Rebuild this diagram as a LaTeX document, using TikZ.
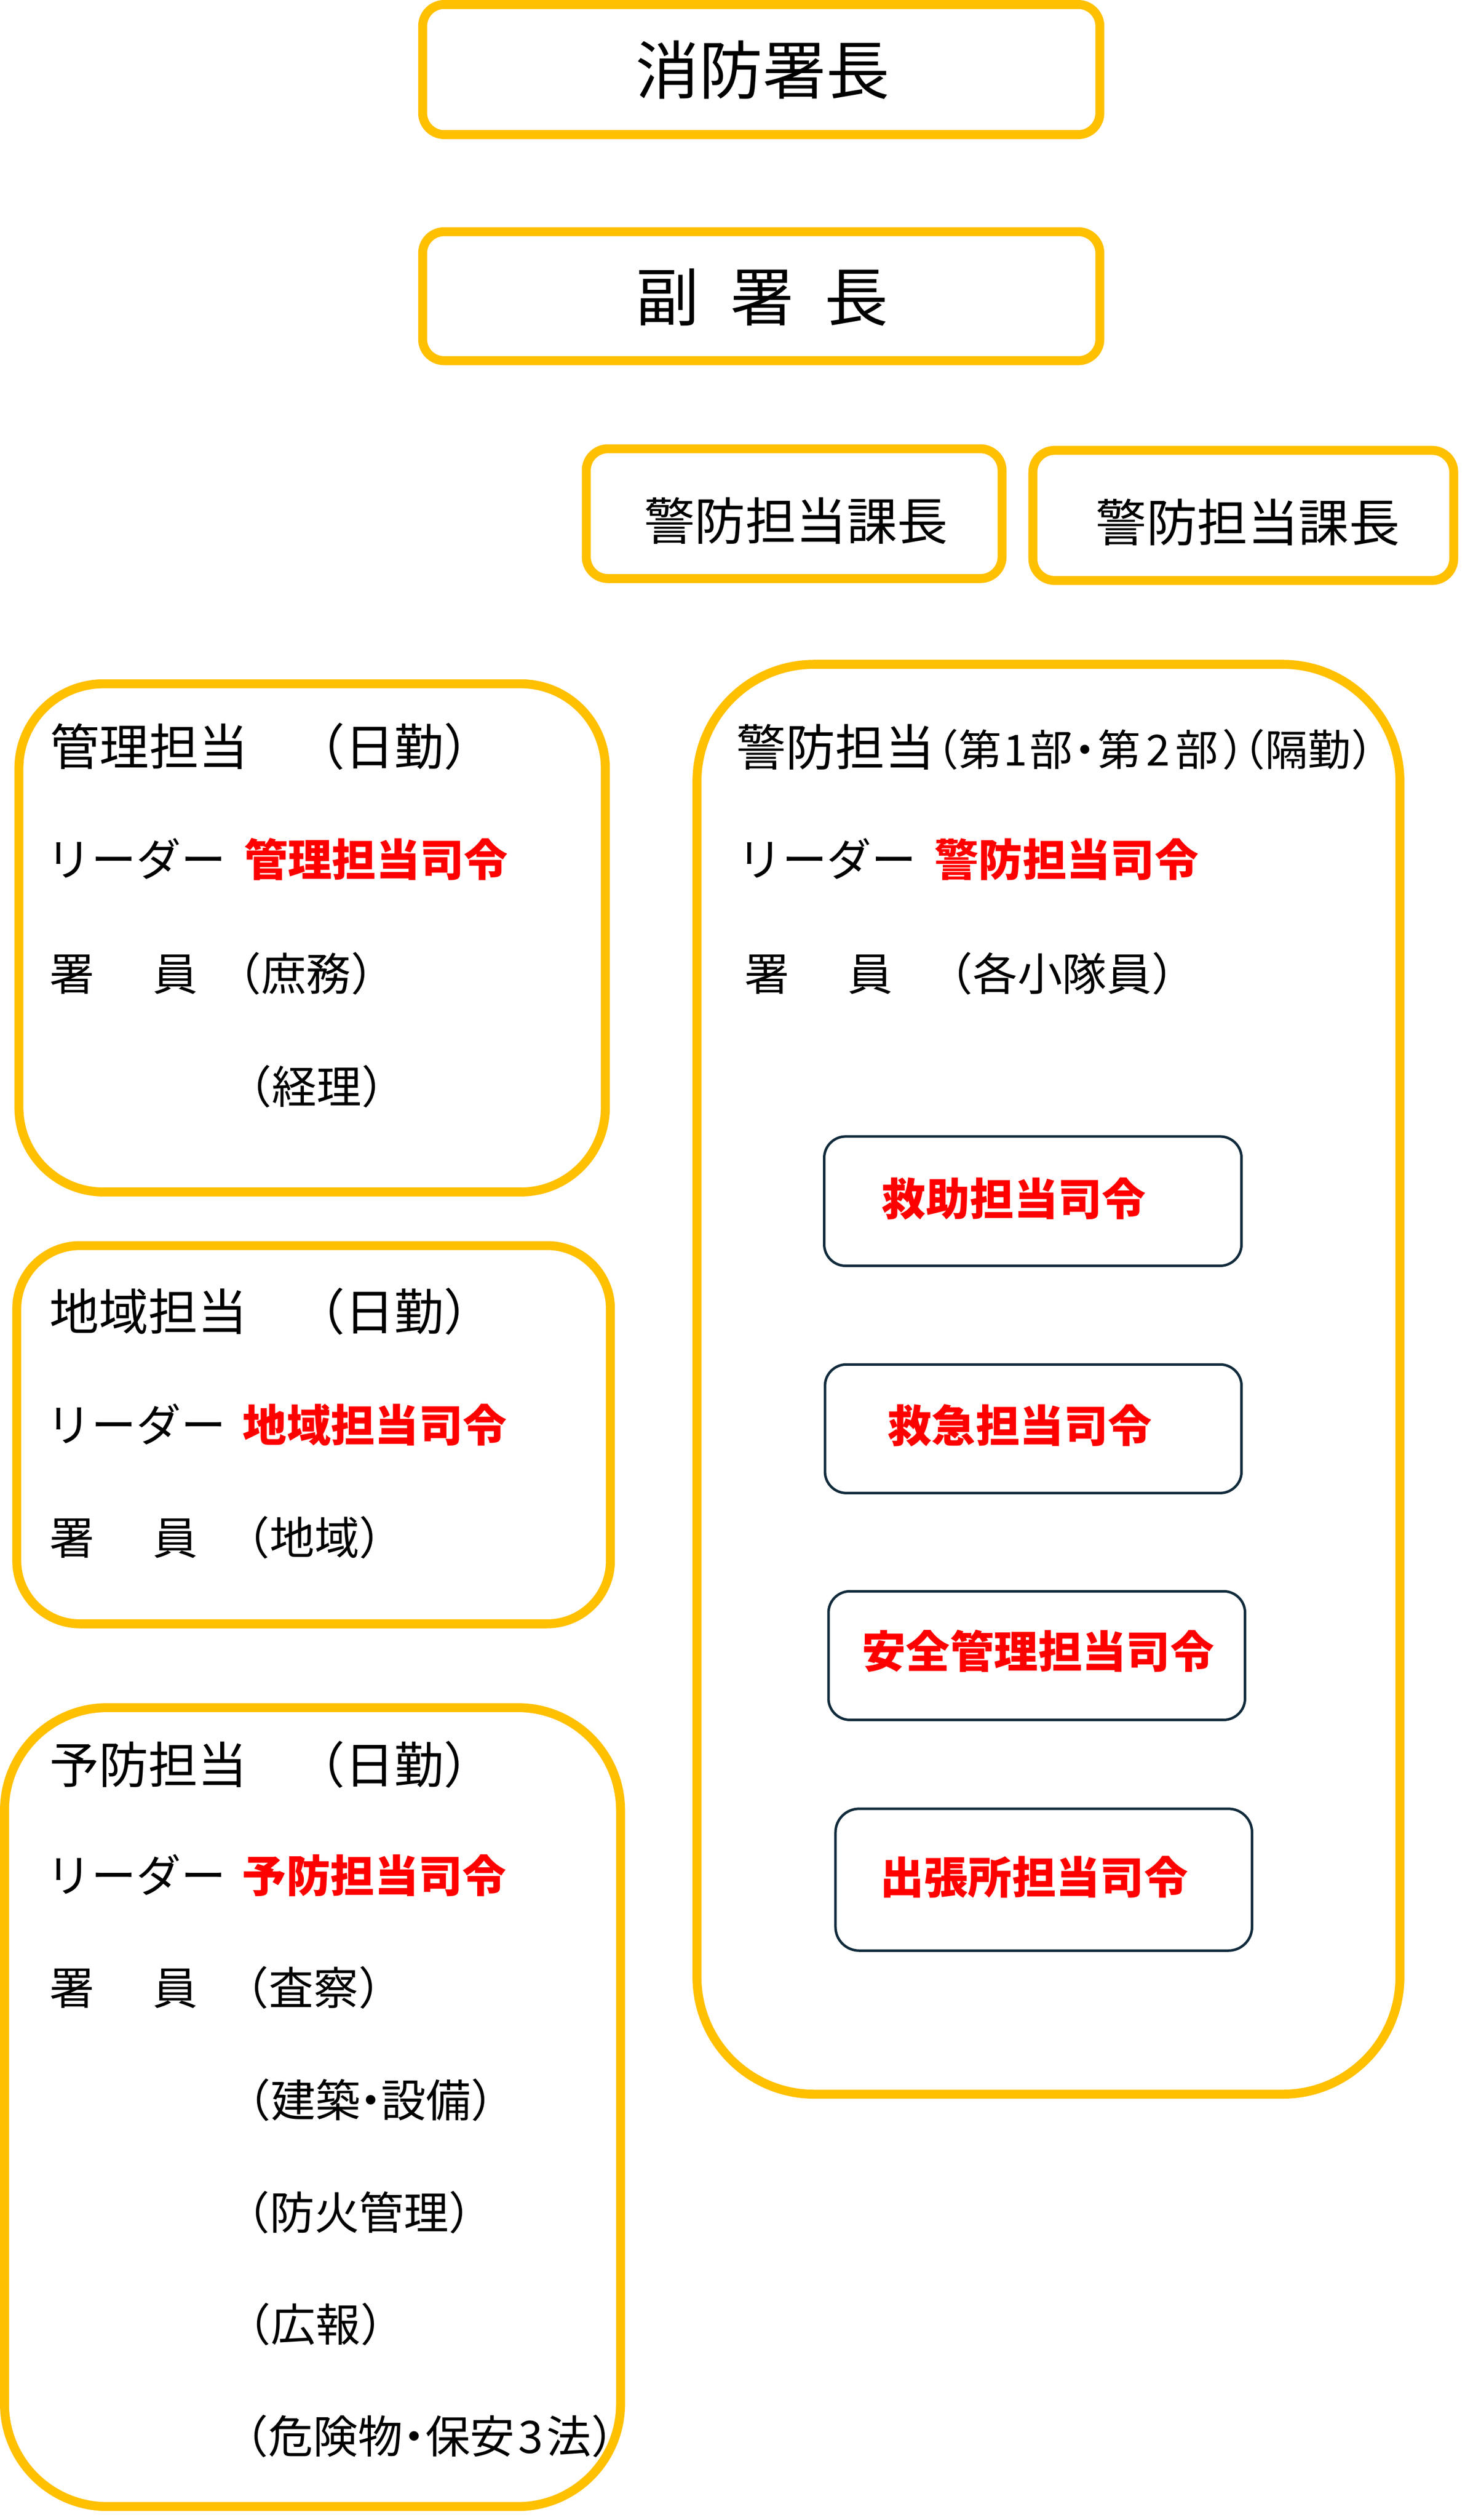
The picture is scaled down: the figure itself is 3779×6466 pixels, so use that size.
\documentclass[tikz,border=0pt]{standalone}
\usepackage{fontspec}
\setmainfont{Noto Sans CJK JP}
\definecolor{ppyellow}{HTML}{FFC000}
\definecolor{ppred}{HTML}{FF0000}
\definecolor{ppnavy}{HTML}{112B3C}
\tikzset{
  ybox/.style={draw=ppyellow, line width=2.3pt, rectangle, inner sep=0pt, outer sep=0pt},
  nbox/.style={draw=ppnavy, line width=0.65pt, rectangle, inner sep=0pt, outer sep=0pt},
  txt/.style={inner sep=0pt, outer sep=0pt, text=black},
  bigtxt/.style={txt, font=\fontsize{16.3pt}{19pt}\selectfont},
  midtxt/.style={txt, font=\fontsize{13pt}{15pt}\selectfont},
  headtxt/.style={txt, font=\fontsize{12.7pt}{15pt}\selectfont, anchor=base west},
  bodytxt/.style={txt, font=\fontsize{11.5pt}{14pt}\selectfont, anchor=base west},
  bodyend/.style={txt, font=\fontsize{11.5pt}{14pt}\selectfont, anchor=base east},
  leadtxt/.style={txt, text=ppred, font=\fontsize{11.3pt}{14pt}\selectfont\bfseries, anchor=base west},
}
\begin{document}
\begin{tikzpicture}[x=0.1pt,y=-0.1pt]
\path[use as bounding box, fill=white] (0,0) rectangle (3779,6466);

% ---------- boxes ----------
\node[ybox, minimum width=173.8pt, minimum height=33.4pt, rounded corners=5.57pt] (chief) at (1953.5,178.5) {};
\node[ybox, minimum width=173.8pt, minimum height=33.1pt, rounded corners=5.52pt] (vice) at (1953.5,760) {};
\node[ybox, minimum width=106.7pt, minimum height=33.3pt, rounded corners=5.55pt] (kacho1) at (2038,1318) {};
\node[ybox, minimum width=108.0pt, minimum height=33.4pt, rounded corners=5.57pt] (kacho2) at (3190.5,1322.5) {};
\node[ybox, minimum width=150.5pt, minimum height=130.4pt, rounded corners=21.7pt] (kanri) at (801,2406.5) {};
\node[ybox, minimum width=152.35pt, minimum height=97.05pt, rounded corners=16.2pt] (chiiki) at (804.75,3681.25) {};
\node[ybox, minimum width=158.1pt, minimum height=205.0pt, rounded corners=26.35pt] (yobo) at (802,5406.5) {};
\node[ybox, minimum width=180.4pt, minimum height=366.9pt, rounded corners=30.07pt] (keibo) at (2690.5,3539) {};
\node[nbox, minimum width=107.1pt, minimum height=33.2pt, rounded corners=5.53pt] (kyujo) at (2650.5,3082) {};
\node[nbox, minimum width=106.9pt, minimum height=33.0pt, rounded corners=5.5pt] (kyukyu) at (2651.5,3666) {};
\node[nbox, minimum width=106.9pt, minimum height=33.0pt, rounded corners=5.5pt] (anzen) at (2660.5,4248) {};
\node[nbox, minimum width=106.9pt, minimum height=36.4pt, rounded corners=6.07pt] (shucho) at (2678.5,4823) {};

% ---------- top texts ----------
\node[bigtxt, anchor=base] (tchief) at (1957,241.5) {消防署長};
\node[bigtxt, anchor=base west] (tvice) at (1631,823) {副\hspace{8pt}署\hspace{8pt}長};
\node[midtxt, anchor=base] (tkacho1) at (2043,1386) {警防担当課長};
\node[midtxt, anchor=base] (tkacho2) at (3202.5,1389) {警防担当課長};

% ---------- 管理担当 ----------
\node[headtxt] (kanriA) at (129,1964) {管理担当};
\node[headtxt] (kanriB) at (758,1964) {（日勤）};
\node[bodyend] (kanriL) at (580,2248) {リーダー};
\node[leadtxt] (kanriR) at (626,2248) {管理担当司令};
\node[bodytxt] (kanriS1) at (127,2542) {署};
\node[bodytxt] (kanriS2) at (393,2542) {員};
\node[bodytxt] (kanriS3) at (556,2542) {（庶務）};
\node[bodytxt] (kanriS4) at (583,2831) {（経理）};

% ---------- 地域担当 ----------
\node[headtxt] (chiikiA) at (127,3414) {地域担当};
\node[headtxt] (chiikiB) at (758,3414) {（日勤）};
\node[bodyend] (chiikiL) at (580,3699) {リーダー};
\node[leadtxt] (chiikiR) at (623,3699) {地域担当司令};
\node[bodytxt] (chiikiS1) at (127,3989) {署};
\node[bodytxt] (chiikiS2) at (393,3989) {員};
\node[bodytxt] (chiikiS3) at (577,3989) {（地域）};

% ---------- 予防担当 ----------
\node[headtxt] (yoboA) at (127,4576) {予防担当};
\node[headtxt] (yoboB) at (758,4576) {（日勤）};
\node[bodyend] (yoboL) at (580,4855) {リーダー};
\node[leadtxt] (yoboR) at (622,4855) {予防担当司令};
\node[bodytxt] (yoboS1) at (127,5144) {署};
\node[bodytxt] (yoboS2) at (393,5144) {員};
\node[bodytxt] (yoboS3) at (574.5,5144) {（査察）};
\node[bodytxt] (yoboS4) at (580,5432) {（建築\makebox[0.46em]{・}設備）};
\node[bodytxt] (yoboS5) at (577,5720) {（防火管理）};
\node[bodytxt] (yoboS6) at (580,6008) {（広報）};
\node[bodytxt] (yoboS7) at (574,6295) {（危険物\makebox[0.5em]{・}保安\makebox[0.71em]{3}法）};

% ---------- 警防担当 ----------
\node[headtxt] (keiboA) at (1890,1965) {警防担当};
\node[txt, anchor=base west, font=\fontsize{11pt}{13pt}\selectfont] (keiboB) at (2393,1965)
  {\makebox[0.615em][r]{（}第\makebox[0.65em]{1}部\makebox[0.59em]{・}第\makebox[0.81em]{2}部\makebox[0.6em][l]{\hspace{0.1em}）}\makebox[0.5em][r]{（}隔勤\makebox[0.5em][l]{）}};
\node[bodyend] (keiboL) at (2352,2248) {リーダー};
\node[leadtxt] (keiboR) at (2398,2248) {警防担当司令};
\node[bodytxt] (keiboS1) at (1911,2542) {署};
\node[bodytxt] (keiboS2) at (2176,2542) {員};
\node[bodytxt] (keiboS3) at (2381,2542) {（各小隊員）};

% ---------- inner boxes ----------
\node[leadtxt] (tkyujo) at (2263,3118) {救助担当司令};
\node[leadtxt] (tkyukyu) at (2278,3700) {救急担当司令};
\node[leadtxt] (tanzen) at (2212,4280) {安全管理担当司令};
\node[leadtxt] (tshucho) at (2258,4859) {出張所担当司令};
\end{tikzpicture}
\end{document}
